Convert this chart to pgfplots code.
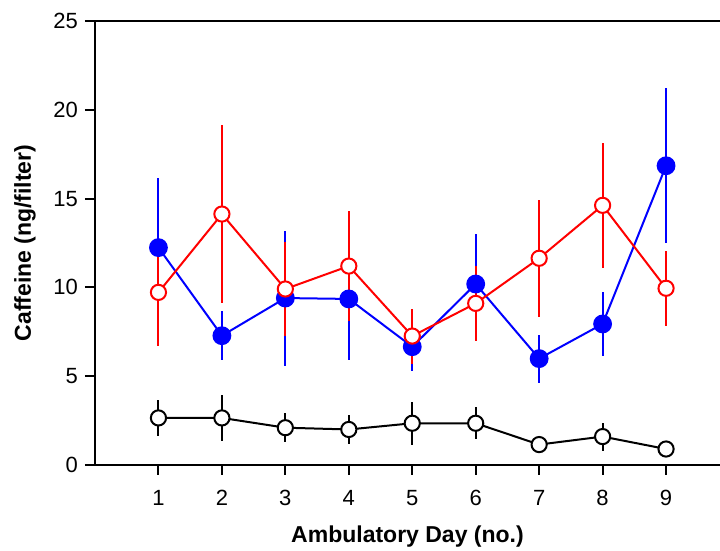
\documentclass[border=0pt]{standalone}
\usepackage{fontspec}
\setmainfont{Liberation Sans}
\usepackage{pgfplots}
\usepackage{pgfplotstable}
\pgfplotsset{compat=1.18}

% day, mean, error up, error down
\pgfplotstableread{
x y ep em
1 12.24 3.90 3.90
2 7.28 1.38 1.38
3 9.40 3.80 3.80
4 9.35 3.44 3.44
5 6.66 1.35 1.35
6 10.19 2.80 2.80
7 5.99 1.35 1.35
8 7.94 1.80 1.80
9 16.85 4.35 4.35
}\bluedata

\pgfplotstableread{
x y ep em
1 9.72 2.00 3.00
2 14.13 5.00 5.00
3 9.91 2.67 2.67
4 11.20 3.10 3.10
5 7.26 1.55 1.55
6 9.10 2.10 2.10
7 11.64 3.30 3.30
8 14.62 3.50 3.50
9 9.95 2.10 2.10
}\reddata

\pgfplotstableread{
x y ep em
1 2.65 1.03 1.03
2 2.65 1.30 1.30
3 2.10 0.82 0.82
4 2.00 0.80 0.80
5 2.35 1.20 1.20
6 2.35 0.90 0.90
7 1.15 0.30 0.30
8 1.60 0.79 0.79
9 0.90 0.20 0.20
}\blackdata

\begin{document}
\begin{tikzpicture}
\useasboundingbox (-47.5pt,-43pt) rectangle (312.5pt,232.5pt);
\begin{axis}[
    scale only axis,
    width=312.5pt, height=222pt,
    xmin=0, xmax=9.85, ymin=0, ymax=25,
    axis x line=box, axis y line=left,
    axis line style={-, line width=1pt},
    xtick={1,2,...,9}, ytick={0,5,...,25},
    xtick pos=bottom, ytick pos=left,
    tick align=outside, major tick length=5pt,
    tick style={line width=1pt, black},
    /pgf/number format/assume math mode=true,
    ticklabel style={font=\fontsize{11}{13}\selectfont},
    xticklabel style={yshift=-4pt},
    xlabel={Ambulatory Day (no.)},
    ylabel={Caffeine (ng/filter)},
    label style={font=\bfseries\fontsize{11.5}{13.5}\selectfont},
    xlabel style={at={(axis description cs:0.5,0)}, anchor=center, yshift=-36pt},
    ylabel style={at={(axis description cs:0,0.5)}, anchor=center, yshift=35pt},
    clip=false,
]
\addplot[blue, line width=1pt, mark=*, mark size=4.2pt,
    mark options={fill=blue, draw=blue},
    error bars/.cd, y dir=both, y explicit,
    error mark=none, error bar style={line width=1pt, blue}]
    table[x=x, y=y, y error plus=ep, y error minus=em] {\bluedata};

\addplot[red, line width=1pt, mark=*, mark size=3.8pt,
    mark options={fill=white, draw=red, line width=1pt},
    error bars/.cd, y dir=both, y explicit,
    error mark=none, error bar style={line width=1pt, red}]
    table[x=x, y=y, y error plus=ep, y error minus=em] {\reddata};

\addplot[black, line width=1pt, mark=*, mark size=3.8pt,
    mark options={fill=white, draw=black, line width=1pt},
    error bars/.cd, y dir=both, y explicit,
    error mark=none, error bar style={line width=1pt, black}]
    table[x=x, y=y, y error plus=ep, y error minus=em] {\blackdata};
\end{axis}
\end{tikzpicture}
\end{document}
